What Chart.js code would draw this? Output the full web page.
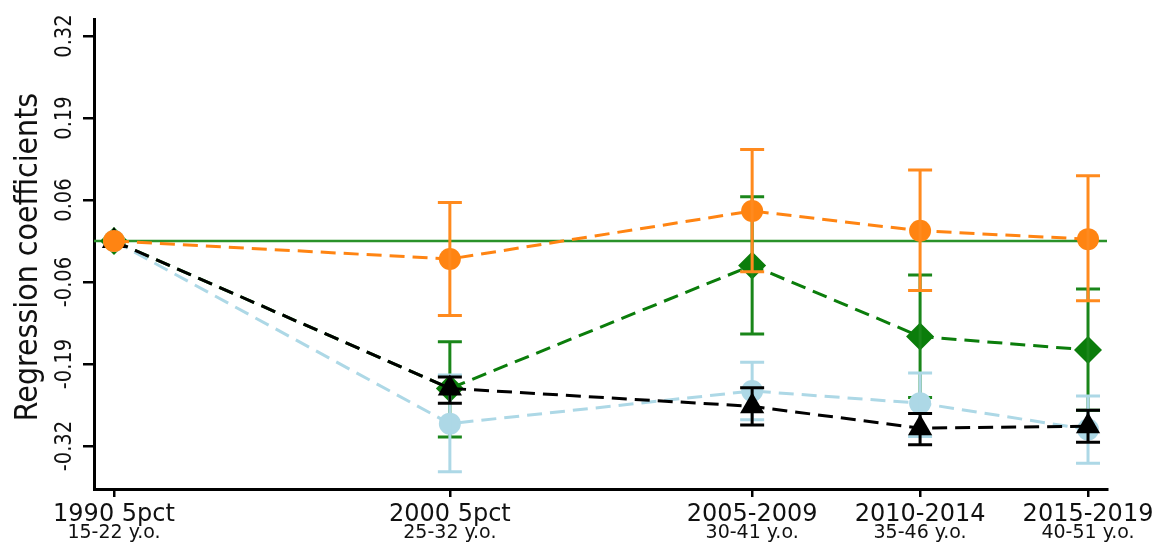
<!DOCTYPE html>
<html>
<head>
<meta charset="utf-8">
<script src="https://cdn.jsdelivr.net/npm/chart.js@4.4.1/dist/chart.umd.min.js"></script>
<style>
  html, body { margin: 0; padding: 0; background: #fff; }
  canvas { display: block; }
</style>
</head>
<body>
<canvas id="coefChart" width="1159" height="543"></canvas>
<script>
// Survey waves (x position = last year of the wave)
const years = [1990, 2000, 2009, 2014, 2019];
const periodLabels = ['1990 5pct', '2000 5pct', '2005-2009', '2010-2014', '2015-2019'];
const ageLabels = ['15-22 y.o.', '25-32 y.o.', '30-41 y.o.', '35-46 y.o.', '40-51 y.o.'];
const yTicks = [-0.32, -0.192, -0.064, 0.064, 0.192, 0.32];

// Coefficients and confidence bounds per group
const orangeCoef = [0, -0.028, 0.047, 0.016, 0.003];
const orangeLo   = [0, -0.116, -0.048, -0.077, -0.093];
const orangeHi   = [0, 0.060, 0.143, 0.111, 0.102];

const blackCoef = [0, -0.230, -0.258, -0.292, -0.289];
const blackLo   = [0, -0.253, -0.287, -0.318, -0.314];
const blackHi   = [0, -0.212, -0.229, -0.269, -0.264];

const blueCoef = [0, -0.285, -0.234, -0.253, -0.294];
const blueLo   = [0, -0.360, -0.279, -0.305, -0.347];
const blueHi   = [0, -0.209, -0.189, -0.206, -0.242];

const greenCoef = [0, -0.230, -0.038, -0.149, -0.170];
const greenLo   = [0, -0.306, -0.145, -0.244, -0.264];
const greenHi   = [0, -0.157, 0.069, -0.053, -0.075];

const FONT = '"DejaVu Sans", sans-serif';

function series(coef, lo, hi, color, barColor, pointStyle, radius) {
    return {
        data: years.map((x, i) => ({ x: x, y: coef[i] })),
        errLo: lo,
        errHi: hi,
        barColor: barColor,
        borderColor: color,
        backgroundColor: color,
        borderWidth: 3,
        borderDash: [15, 8],
        tension: 0,
        pointStyle: pointStyle,
        pointRadius: radius,
        pointBorderWidth: 0,
        pointBackgroundColor: color,
    };
}

// Solid reference line at zero, under everything else
const zeroLine = {
    id: 'zeroLine',
    beforeDatasetsDraw(chart) {
        const { ctx, chartArea } = chart;
        const y = chart.scales.y.getPixelForValue(0);
        ctx.save();
        ctx.strokeStyle = '#2a922a';
        ctx.lineWidth = 2.5;
        ctx.beginPath();
        ctx.moveTo(chartArea.left, y);
        ctx.lineTo(chartArea.right, y);
        ctx.stroke();
        ctx.restore();
    }
};

// Confidence interval whiskers, drawn right after their own dataset
const errorBars = {
    id: 'errorBars',
    afterDatasetDraw(chart, args) {
        const ds = chart.data.datasets[args.index];
        if (!ds.errLo) return;
        const { ctx } = chart;
        const xs = chart.scales.x, ys = chart.scales.y;
        ctx.save();
        ctx.strokeStyle = ds.barColor;
        ctx.lineWidth = 3;
        years.forEach((yr, i) => {
            if (ds.errLo[i] === ds.errHi[i]) return;
            const px = xs.getPixelForValue(yr);
            const top = ys.getPixelForValue(ds.errHi[i]);
            const bot = ys.getPixelForValue(ds.errLo[i]);
            ctx.beginPath();
            ctx.moveTo(px, top);
            ctx.lineTo(px, bot);
            ctx.moveTo(px - 12, top);
            ctx.lineTo(px + 12, top);
            ctx.moveTo(px - 12, bot);
            ctx.lineTo(px + 12, bot);
            ctx.stroke();
        });
        ctx.restore();
    }
};

// rotated text, slightly widened across its baseline
function verticalText(ctx, text, x, y, font) {
    ctx.save();
    ctx.translate(x, y);
    ctx.rotate(-Math.PI / 2);
    ctx.scale(1, 1.15);
    ctx.font = font;
    ctx.fillText(text, 0, 0);
    ctx.restore();
}

// Two-line period labels, rotated y tick labels and axis title
const axisLabels = {
    id: 'axisLabels',
    afterDraw(chart) {
        const { ctx } = chart;
        const xs = chart.scales.x, ys = chart.scales.y;
        ctx.save();
        ctx.fillStyle = '#111';
        ctx.textAlign = 'center';
        ctx.textBaseline = 'alphabetic';
        years.forEach((yr, i) => {
            const px = xs.getPixelForValue(yr);
            ctx.font = '24px ' + FONT;
            ctx.fillText(periodLabels[i], px, xs.top + 32);
            ctx.font = '19px ' + FONT;
            ctx.fillText(ageLabels[i], px, xs.top + 49);
        });
        yTicks.forEach(v => {
            verticalText(ctx, v.toFixed(2), ys.right - 23, ys.getPixelForValue(v), '19.5px ' + FONT);
        });
        verticalText(ctx, 'Regression coefficients', ys.right - 57,
            (ys.top + ys.bottom) / 2 + 3, '28.5px ' + FONT);
        ctx.restore();
    }
};

const ctx = document.getElementById('coefChart').getContext('2d');

new Chart(ctx, {
    type: 'line',
    data: {
        datasets: [
            series(orangeCoef, orangeLo, orangeHi, '#ff8412', '#ff8a1e', 'circle', 11),
            series(blackCoef, blackLo, blackHi, '#000000', '#000000', 'triangle', 14),
            series(blueCoef, blueLo, blueHi, '#add8e6', '#add8e6', 'circle', 11),
            series(greenCoef, greenLo, greenHi, '#0b7d0b', '#1a861a', 'rectRot', 14),
        ]
    },
    options: {
        responsive: false,
        animation: false,
        devicePixelRatio: 1,
        layout: { padding: { top: 19, right: 52, left: 0, bottom: 0 } },
        plugins: {
            legend: { display: false },
            tooltip: { enabled: false }
        },
        scales: {
            x: {
                type: 'linear',
                min: 1989.405,
                max: 2019.565,
                afterBuildTicks: (scale) => {
                    scale.ticks = years.map(v => ({ value: v }));
                },
                afterFit: (scale) => { scale.height = 54; },
                ticks: { display: false },
                grid: {
                    drawOnChartArea: false,
                    drawTicks: true,
                    tickLength: 8,
                    color: '#000',
                    lineWidth: 2.5
                },
                border: { display: true, color: '#000', width: 3 }
            },
            y: {
                min: -0.387,
                max: 0.3466,
                afterBuildTicks: (scale) => {
                    scale.ticks = yTicks.map(v => ({ value: v }));
                },
                afterFit: (scale) => { scale.width = 94; },
                ticks: { display: false },
                grid: {
                    drawOnChartArea: false,
                    drawTicks: true,
                    tickLength: 11,
                    color: '#000',
                    lineWidth: 2.5
                },
                border: { display: true, color: '#000', width: 3 }
            }
        }
    },
    plugins: [zeroLine, errorBars, axisLabels]
});
</script>
</body>
</html>
